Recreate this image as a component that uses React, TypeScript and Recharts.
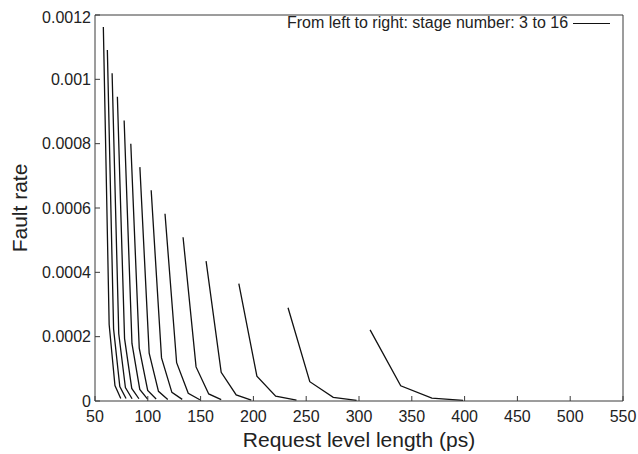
import { LineChart, Line, XAxis, YAxis } from 'recharts';

// stage number -> request level length (ps) and fault rate
const stage3x = [57.9, 63.4, 68.9, 74.4];
const stage3y = [0.001163, 0.000238, 0.000048, 0.000008];
const stage4x = [61.7, 67.6, 73.5, 79.4];
const stage4y = [0.001091, 0.000224, 0.000045, 0.000008];
const stage5x = [66.2, 72.5, 78.8, 85.1];
const stage5y = [0.001019, 0.000209, 0.000042, 0.000007];
const stage6x = [71.2, 78.0, 84.8, 91.6];
const stage6y = [0.000946, 0.000194, 0.000039, 0.000007];
const stage7x = [77.6, 85.0, 92.4, 99.8];
const stage7y = [0.000872, 0.000179, 0.000036, 0.000006];
const stage8x = [83.9, 91.9, 99.9, 107.9];
const stage8y = [0.0008, 0.000164, 0.000033, 0.000006];
const stage9x = [92.5, 101.3, 110.1, 118.9];
const stage9y = [0.000727, 0.000149, 0.00003, 0.000005];
const stage10x = [103.2, 113.0, 122.8, 132.6];
const stage10y = [0.000655, 0.000134, 0.000027, 0.000005];
const stage11x = [116.3, 127.3, 138.3, 149.3];
const stage11y = [0.000582, 0.000119, 0.000024, 0.000004];
const stage12x = [133.4, 145.7, 157.7, 169.5];
const stage12y = [0.000509, 0.000106, 0.000022, 0.000004];
const stage13x = [155.2, 169.5, 183.7, 198.0];
const stage13y = [0.000435, 0.000089, 0.000019, 0.000003];
const stage14x = [186.2, 203.3, 221.1, 240.8];
const stage14y = [0.000365, 0.000077, 0.000015, 0.000003];
const stage15x = [232.8, 253.4, 275.6, 297.7];
const stage15y = [0.00029, 0.00006, 0.0000115, 0.000002];
const stage16x = [310.5, 339.5, 369.0, 398.5];
const stage16y = [0.000221, 0.0000474, 0.000009, 0.000002];

const xTicks = [50, 100, 150, 200, 250, 300, 350, 400, 450, 500, 550];
const yTicks = [0, 0.0002, 0.0004, 0.0006, 0.0008, 0.001, 0.0012];
const yLabels = ['0', '0.0002', '0.0004', '0.0006', '0.0008', '0.001', '0.0012'];

const stages = [
  [stage3x, stage3y],
  [stage4x, stage4y],
  [stage5x, stage5y],
  [stage6x, stage6y],
  [stage7x, stage7y],
  [stage8x, stage8y],
  [stage9x, stage9y],
  [stage10x, stage10y],
  [stage11x, stage11y],
  [stage12x, stage12y],
  [stage13x, stage13y],
  [stage14x, stage14y],
  [stage15x, stage15y],
  [stage16x, stage16y],
].map(([xs, ys]) => xs.map((x, i) => ({ x, y: ys[i] })));

const FONT = '"Liberation Sans", Arial, Helvetica, sans-serif';
const AXIS = '#3a3a3a';
const TEXT = '#222';

export default function App() {
  // absolute so the page never scrolls (a scrollbar would clip the "550" tick)
  return (
    <div style={{ position: 'absolute', top: 8, left: 8, width: 630, height: 446, fontFamily: FONT }}>
      <LineChart width={630} height={446} margin={{ top: 6, right: 14, bottom: 0, left: 0 }}>
        <XAxis
          dataKey="x"
          type="number"
          domain={[50, 550]}
          ticks={xTicks}
          allowDataOverflow
          height={53}
          tickSize={-5}
          tickMargin={15}
          stroke={AXIS}
          tick={{ fontSize: 16, fill: TEXT, fontFamily: FONT }}
          label={{
            value: 'Request level length (ps)',
            position: 'insideBottom',
            offset: 7,
            fontSize: 21,
            fill: TEXT,
            fontFamily: FONT,
          }}
        />
        <XAxis
          xAxisId="top"
          orientation="top"
          type="number"
          domain={[50, 550]}
          ticks={xTicks}
          allowDataOverflow
          height={1}
          tickSize={-5}
          tick={false}
          stroke={AXIS}
        />
        <YAxis
          type="number"
          domain={[0, 0.0012]}
          ticks={yTicks}
          allowDataOverflow
          width={87}
          tickSize={-5}
          tickMargin={9}
          stroke={AXIS}
          tickFormatter={(v: number) => yLabels[yTicks.indexOf(v)] ?? String(v)}
          tick={{ fontSize: 16, fill: TEXT, fontFamily: FONT }}
          label={{
            value: 'Fault rate',
            angle: -90,
            position: 'center',
            dx: -32,
            fontSize: 21,
            fill: TEXT,
            fontFamily: FONT,
          }}
        />
        <YAxis
          yAxisId="right"
          orientation="right"
          type="number"
          domain={[0, 0.0012]}
          ticks={yTicks}
          allowDataOverflow
          width={1}
          tickSize={-5}
          tick={false}
          stroke={AXIS}
        />
        {stages.map((pts, i) => (
          <Line
            key={i}
            data={pts}
            dataKey="y"
            type="linear"
            stroke="#111"
            strokeWidth={1.3}
            dot={false}
            activeDot={false}
            isAnimationActive={false}
          />
        ))}
      </LineChart>
      <div
        style={{
          position: 'absolute',
          top: 6,
          left: 279,
          fontSize: 16,
          lineHeight: '18px',
          color: TEXT,
          whiteSpace: 'nowrap',
          display: 'flex',
          alignItems: 'center',
        }}
      >
        <span>From left to right: stage number: 3 to 16</span>
        <span style={{ display: 'inline-block', width: 37, borderTop: '1.3px solid #111', marginLeft: 5 }} />
      </div>
    </div>
  );
}
